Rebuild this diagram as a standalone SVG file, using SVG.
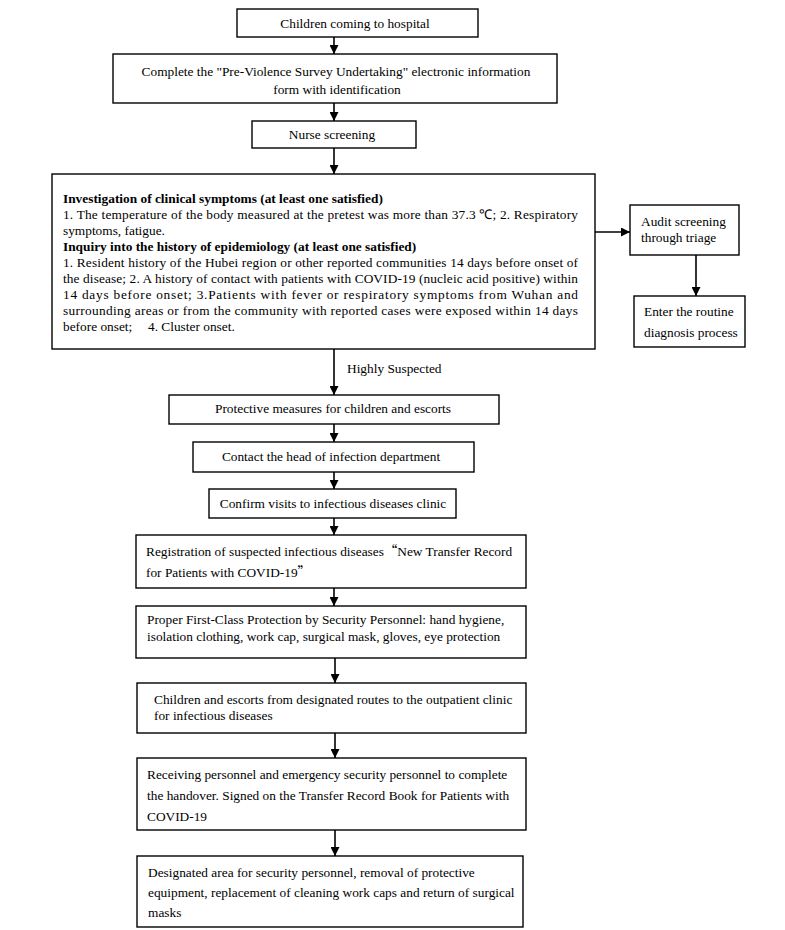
<svg xmlns="http://www.w3.org/2000/svg" width="785" height="930" viewBox="0 0 785 930">
<defs>
<marker id="ah" viewBox="0 0 10 10" refX="10" refY="5" markerWidth="9" markerHeight="9" markerUnits="userSpaceOnUse" orient="auto">
<path d="M0,0 L10,5 L0,10 z" fill="#000"/>
</marker>
<style>
.box{fill:#fff;stroke:#000;stroke-width:1.4}
.t{font-family:"Liberation Serif","Times New Roman",serif;font-size:13.35px;fill:#000}
.b{font-weight:bold}
.c{text-anchor:middle}
.q{font-family:"Noto Sans CJK SC","Liberation Serif",serif}
.ln{stroke:#000;stroke-width:1.6;fill:none;marker-end:url(#ah)}
</style>
</defs>
<rect width="785" height="930" fill="#fff"/>
<g id="connectors">
<line class="ln" x1="334" y1="37" x2="334" y2="54"/>
<line class="ln" x1="334" y1="103" x2="334" y2="121"/>
<line class="ln" x1="334" y1="148" x2="334" y2="174"/>
<line class="ln" x1="595" y1="232" x2="630" y2="232"/>
<line class="ln" x1="696" y1="255" x2="696" y2="296"/>
<line class="ln" x1="334" y1="349" x2="334" y2="395"/>
<line class="ln" x1="334" y1="424" x2="334" y2="442"/>
<line class="ln" x1="334" y1="472" x2="334" y2="489"/>
<line class="ln" x1="334" y1="518" x2="334" y2="535"/>
<line class="ln" x1="334" y1="588" x2="334" y2="606"/>
<line class="ln" x1="335" y1="658" x2="335" y2="683"/>
<line class="ln" x1="335" y1="733" x2="335" y2="758"/>
<line class="ln" x1="335" y1="830" x2="335" y2="856"/>
<text class="t" x="347" y="373">Highly Suspected</text>
</g>
<g id="n1"><rect class="box" x="237" y="9" width="241" height="28"/><text class="t c" x="355" y="28">Children coming to hospital</text></g>
<g id="n2"><rect class="box" x="113" y="54" width="444" height="49"/><text class="t c" x="336" y="76">Complete the "Pre-Violence Survey Undertaking" electronic information</text><text class="t c" x="337" y="94">form with identification</text></g>
<g id="n3"><rect class="box" x="252" y="121" width="164" height="27"/><text class="t c" x="332" y="139">Nurse screening</text></g>
<g id="n4"><rect class="box" x="52" y="174" width="543" height="175"/>
<text class="t b" x="63" y="203">Investigation of clinical symptoms (at least one satisfied)</text>
<text class="t" x="63" y="219" textLength="515" lengthAdjust="spacing">1. The temperature of the body measured at the pretest was more than 37.3 ℃; 2. Respiratory</text>
<text class="t" x="63" y="235">symptoms, fatigue.</text>
<text class="t b" x="63" y="251">Inquiry into the history of epidemiology (at least one satisfied)</text>
<text class="t" x="63" y="267" textLength="515" lengthAdjust="spacing">1. Resident history of the Hubei region or other reported communities 14 days before onset of</text>
<text class="t" x="63" y="283" textLength="515" lengthAdjust="spacing">the disease; 2. A history of contact with patients with COVID-19 (nucleic acid positive) within</text>
<text class="t" x="63" y="299" textLength="515" lengthAdjust="spacing">14 days before onset; 3.Patients with fever or respiratory symptoms from Wuhan and</text>
<text class="t" x="63" y="315" textLength="515" lengthAdjust="spacing">surrounding areas or from the community with reported cases were exposed within 14 days</text>
<text class="t" x="63" y="331">before onset;</text><text class="t" x="148" y="331">4. Cluster onset.</text>
</g>
<g id="n5"><rect class="box" x="630" y="205" width="109" height="50"/><text class="t" x="641" y="226">Audit screening</text><text class="t" x="641" y="242">through triage</text></g>
<g id="n6"><rect class="box" x="634" y="296" width="111" height="51"/><text class="t" x="644" y="316">Enter the routine</text><text class="t" x="644" y="337">diagnosis process</text></g>
<g id="n7"><rect class="box" x="169" y="395" width="330" height="29"/><text class="t c" x="333" y="413">Protective measures for children and escorts</text></g>
<g id="n8"><rect class="box" x="193" y="442" width="281" height="30"/><text class="t c" x="331" y="461">Contact the head of infection department</text></g>
<g id="n9"><rect class="box" x="209" y="489" width="247" height="29"/><text class="t c" x="333" y="508">Confirm visits to infectious diseases clinic</text></g>
<g id="n10"><rect class="box" x="136" y="535" width="390" height="53"/><text class="t" x="146" y="556">Registration of suspected infectious diseases<tspan class="q">“</tspan>New Transfer Record</text><text class="t" x="146" y="577">for Patients with COVID-19<tspan class="q">”</tspan></text></g>
<g id="n11"><rect class="box" x="136" y="606" width="390" height="52"/><text class="t" x="147" y="624">Proper First-Class Protection by Security Personnel: hand hygiene,</text><text class="t" x="147" y="641">isolation clothing, work cap, surgical mask, gloves, eye protection</text></g>
<g id="n12"><rect class="box" x="137" y="683" width="389" height="50"/><text class="t" x="154" y="704">Children and escorts from designated routes to the outpatient clinic</text><text class="t" x="154" y="720">for infectious diseases</text></g>
<g id="n13"><rect class="box" x="137" y="758" width="389" height="72"/><text class="t" x="147" y="779">Receiving personnel and emergency security personnel to complete</text><text class="t" x="147" y="800">the handover. Signed on the Transfer Record Book for Patients with</text><text class="t" x="147" y="821">COVID-19</text></g>
<g id="n14"><rect class="box" x="137" y="856" width="386" height="71"/><text class="t" x="148" y="877">Designated area for security personnel, removal of protective</text><text class="t" x="148" y="897">equipment, replacement of cleaning work caps and return of surgical</text><text class="t" x="148" y="917">masks</text></g>
</svg>
